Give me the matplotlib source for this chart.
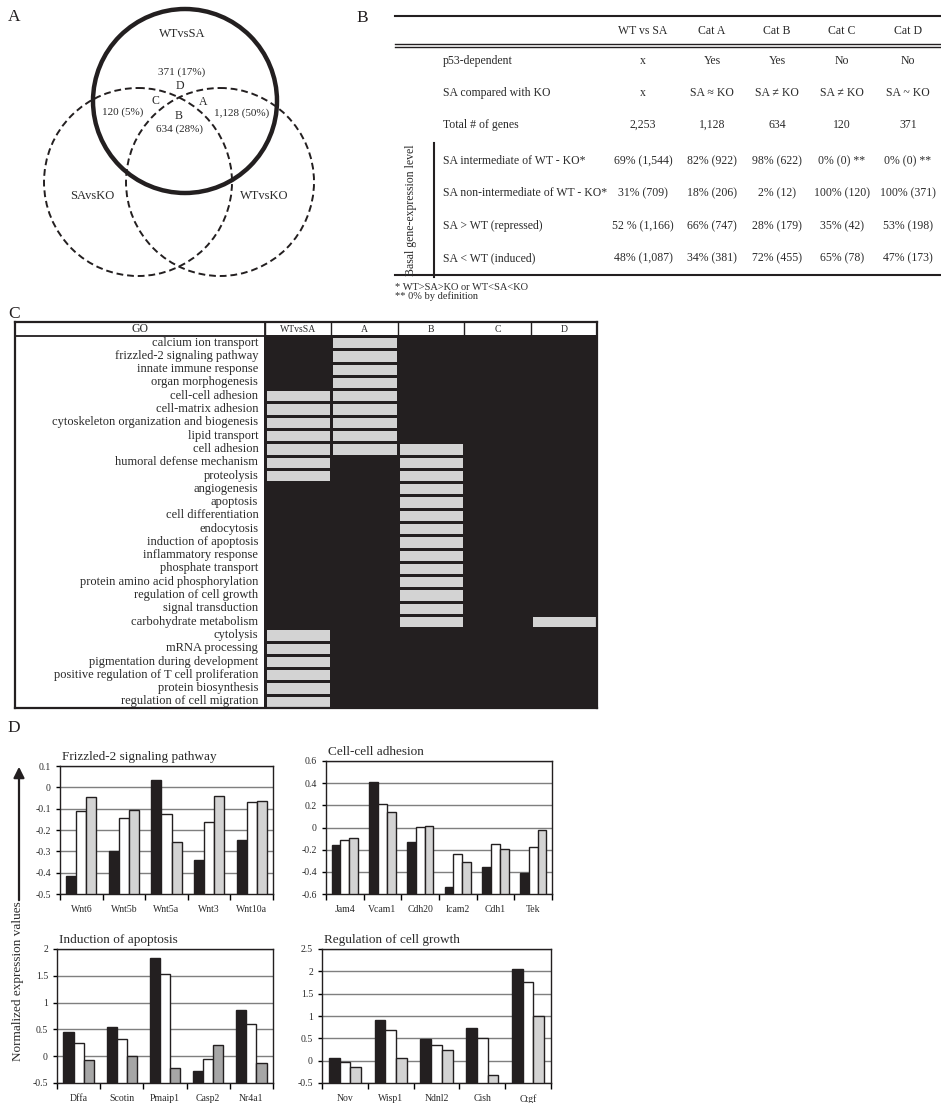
import numpy as np
import matplotlib
matplotlib.use('Agg')
import matplotlib.pyplot as plt
from matplotlib.patches import Circle
from matplotlib.colors import ListedColormap

plt.rcParams['font.family'] = ['Liberation Serif', 'DejaVu Serif']

# ---------------- DATA ----------------
# Panel A (Venn)
venn_sets = ['WTvsSA', 'SAvsKO', 'WTvsKO']
venn_regions = ['D', 'C', 'A', 'B']
venn_counts = [371, 120, 1128, 634]
venn_pcts = [17, 5, 50, 28]

# Panel B (table)
table_cols = ['WT vs SA', 'Cat A', 'Cat B', 'Cat C', 'Cat D']
table_rows = ['p53-dependent', 'SA compared with KO', 'Total # of genes',
              'SA intermediate of WT - KO*', 'SA non-intermediate of WT - KO*',
              'SA > WT (repressed)', 'SA < WT (induced)']
row_p53 = ['x', 'Yes', 'Yes', 'No', 'No']
row_cmp = ['x', 'SA \u2248 KO', 'SA \u2260 KO', 'SA \u2260 KO', 'SA ~ KO']
row_total = ['2,253', '1,128', '634', '120', '371']
row_inter = ['69% (1,544)', '82% (922)', '98% (622)', '0% (0) **', '0% (0) **']
row_noninter = ['31% (709)', '18% (206)', '2% (12)', '100% (120)', '100% (371)']
row_repr = ['52 % (1,166)', '66% (747)', '28% (179)', '35% (42)', '53% (198)']
row_ind = ['48% (1,087)', '34% (381)', '72% (455)', '65% (78)', '47% (173)']
table_side_label = 'Basal gene-expression level'
footnotes = ['* WT>SA>KO or WT<SA<KO', '** 0% by definition']

# Panel C (GO enrichment)
go_cols = ['WTvsSA', 'A', 'B', 'C', 'D']
go_terms = ['calcium ion transport', 'frizzled-2 signaling pathway', 'innate immune response',
            'organ morphogenesis', 'cell-cell adhesion', 'cell-matrix adhesion',
            'cytoskeleton organization and biogenesis', 'lipid transport', 'cell adhesion',
            'humoral defense mechanism', 'proteolysis', 'angiogenesis', 'apoptosis',
            'cell differentiation', 'endocytosis', 'induction of apoptosis',
            'inflammatory response', 'phosphate transport',
            'protein amino acid phosphorylation', 'regulation of cell growth',
            'signal transduction', 'carbohydrate metabolism', 'cytolysis', 'mRNA processing',
            'pigmentation during development', 'positive regulation of T cell proliferation',
            'protein biosynthesis', 'regulation of cell migration']
go_WTvsSA = ['cell-cell adhesion', 'cell-matrix adhesion', 'cytoskeleton organization and biogenesis',
             'lipid transport', 'cell adhesion', 'humoral defense mechanism', 'proteolysis',
             'cytolysis', 'mRNA processing', 'pigmentation during development',
             'positive regulation of T cell proliferation', 'protein biosynthesis',
             'regulation of cell migration']
go_A = ['calcium ion transport', 'frizzled-2 signaling pathway', 'innate immune response',
        'organ morphogenesis', 'cell-cell adhesion', 'cell-matrix adhesion',
        'cytoskeleton organization and biogenesis', 'lipid transport', 'cell adhesion']
go_B = ['cell adhesion', 'humoral defense mechanism', 'proteolysis', 'angiogenesis', 'apoptosis',
        'cell differentiation', 'endocytosis', 'induction of apoptosis', 'inflammatory response',
        'phosphate transport', 'protein amino acid phosphorylation', 'regulation of cell growth',
        'signal transduction', 'carbohydrate metabolism']
go_C = []
go_D = ['carbohydrate metabolism']

# Panel D (bar charts)
fz_genes = ['Wnt6', 'Wnt5b', 'Wnt5a', 'Wnt3', 'Wnt10a']
fz_black = [-0.415, -0.30, 0.035, -0.34, -0.248]
fz_white = [-0.11, -0.143, -0.125, -0.162, -0.07]
fz_gray = [-0.045, -0.107, -0.257, -0.04, -0.065]

cc_genes = ['Jam4', 'Vcam1', 'Cdh20', 'Icam2', 'Cdh1', 'Tek']
cc_black = [-0.16, 0.41, -0.13, -0.535, -0.36, -0.415]
cc_white = [-0.115, 0.21, 0.005, -0.24, -0.15, -0.175]
cc_gray = [-0.095, 0.14, 0.015, -0.31, -0.19, -0.02]

ap_genes = ['Dffa', 'Scotin', 'Pmaip1', 'Casp2', 'Nr4a1']
ap_black = [0.46, 0.55, 1.83, -0.28, 0.86]
ap_white = [0.25, 0.33, 1.54, -0.05, 0.60]
ap_gray = [-0.08, 0.01, -0.22, 0.20, -0.13]

cg_genes = ['Nov', 'Wisp1', 'Ndnl2', 'Cish', 'Ctgf']
cg_black = [0.07, 0.91, 0.49, 0.73, 2.05]
cg_white = [-0.03, 0.69, 0.35, 0.51, 1.76]
cg_gray = [-0.14, 0.06, 0.25, -0.33, 1.01]

# ---------------- FIGURE ----------------
W, H = 941, 1103
fig = plt.figure(figsize=(W / 100, H / 100), dpi=100)
INK = '#231f20'
TXT = '#2a2a2a'
LIGHT = '#d3d3d3'
MID = '#a6a6a6'


def rect(l, t, r, b):
    return [l / W, 1 - b / H, (r - l) / W, (b - t) / H]


ax0 = fig.add_axes([0, 0, 1, 1])
ax0.set_xlim(0, W)
ax0.set_ylim(H, 0)
ax0.axis('off')

# panel letters
for letter, (px, py) in zip('ABCD', [(14, 17), (362, 18), (14, 314), (14, 728)]):
    ax0.text(px, py, letter, fontsize=12.5, ha='center', va='center', color=INK)

# ---- Panel A: Venn ----
ax0.add_patch(Circle((185, 101), 92, fill=False, lw=3.2, ec=INK))
ax0.add_patch(Circle((138, 182), 94, fill=False, lw=1.4, ec=INK, ls=(0, (3.5, 2))))
ax0.add_patch(Circle((220, 182), 94, fill=False, lw=1.4, ec=INK, ls=(0, (3.5, 2))))
for name, pos in zip(venn_sets, [(182, 34), (92, 196), (264, 196)]):
    ax0.text(*pos, name, fontsize=9, ha='center', va='center', color=TXT)
region_letter_pos = [(180, 86), (155, 101), (203, 102), (179, 116)]
region_count_pos = [(182, 72), (123, 112), (242, 113), (180, 129)]
for reg, cnt, pct, lp, cp in zip(venn_regions, venn_counts, venn_pcts,
                                  region_letter_pos, region_count_pos):
    ax0.text(*lp, reg, fontsize=8.5, ha='center', va='center', color=TXT)
    ax0.text(*cp, f'{cnt:,} ({pct}%)', fontsize=8, ha='center', va='center', color=TXT)

# ---- Panel B: table ----
tab_left, tab_right = 395, W
ax0.plot([tab_left, tab_right], [16, 16], color=INK, lw=1.5)
ax0.plot([tab_left, tab_right], [44, 44], color=INK, lw=1.0)
ax0.plot([tab_left, tab_right], [47, 47], color=INK, lw=1.0)
ax0.plot([tab_left, tab_right], [275, 275], color=INK, lw=1.5)
ax0.plot([434, 434], [143, 277], color=INK, lw=1.5)
col_x = [643, 712, 777, 842, 908]
row_y = [61, 93, 125, 161, 193, 226, 258]
for cx, c in zip(col_x, table_cols):
    ax0.text(cx, 31, c, fontsize=8.5, ha='center', va='center', color=TXT)
table_values = [row_p53, row_cmp, row_total, row_inter, row_noninter, row_repr, row_ind]
for ry, lab, vals in zip(row_y, table_rows, table_values):
    ax0.text(443, ry, lab, fontsize=8.5, ha='left', va='center', color=TXT)
    for cx, v in zip(col_x, vals):
        ax0.text(cx, ry, v, fontsize=8.5, ha='center', va='center', color=TXT)
ax0.text(411, 210, table_side_label, fontsize=8.5, rotation=90, ha='center', va='center', color=TXT)
for i, fn in enumerate(footnotes):
    ax0.text(395, 287 + i * 9, fn, fontsize=7.5, ha='left', va='center', color=TXT)

# ---- Panel C: GO grid ----
grid_l, grid_div, grid_r = 15, 265, 597
grid_t, grid_hb, grid_b = 322, 336, 708
colw = (grid_r - grid_div) / len(go_cols)
roww = (grid_b - grid_hb) / len(go_terms)
GOW = (grid_div - grid_l) / colw
HDR = (grid_hb - grid_t) / roww
axc = fig.add_axes(rect(grid_l, grid_t, grid_r, grid_b))
axc.set_xlim(-GOW, len(go_cols))
axc.set_ylim(len(go_terms), -HDR)
axc.set_xticks([])
axc.set_yticks([])
for s in axc.spines.values():
    s.set_linewidth(1.6)
    s.set_color(INK)
members = [go_WTvsSA, go_A, go_B, go_C, go_D]
mat = np.array([[1 if t in m else 0 for m in members] for t in go_terms])
axc.pcolormesh(np.arange(len(go_cols) + 1), np.arange(len(go_terms) + 1), mat,
               cmap=ListedColormap([INK, LIGHT]), vmin=0, vmax=1,
               edgecolors=INK, linewidth=1.0)
axc.axhline(0, color=INK, lw=1.3)
axc.vlines(np.arange(len(go_cols)), -HDR, 0, colors=INK, lw=1.0)
axc.vlines([0], -HDR, len(go_terms), colors=INK, lw=1.3)
axc.text(-GOW / 2, -HDR / 2, 'GO', fontsize=8.5, ha='center', va='center', color=TXT)
for i, c in enumerate(go_cols):
    axc.text(i + 0.5, -HDR / 2, c, fontsize=7, ha='center', va='center', color=TXT)
for j, t in enumerate(go_terms):
    axc.text(-0.1, j + 0.5, t, fontsize=9, ha='right', va='center', color=TXT)

# ---- Panel D: bar charts ----


def fmt(v):
    v = round(v, 2) + 0.0
    return f'{v:g}'


def bars(px, title, cats, blk, wht, gry, lo, hi, step, gcol):
    ax = fig.add_axes(rect(*px))
    x = np.arange(len(cats))
    w = 0.235
    for off, vals, col in [(-w, blk, INK), (0, wht, 'white'), (w, gry, gcol)]:
        v = np.array(vals)
        ax.bar(x + off, v - lo, bottom=lo, width=w, color=col, edgecolor=INK,
               lw=1.0, zorder=3)
    ax.set_xlim(-0.5, len(cats) - 0.5)
    ax.set_ylim(lo, hi)
    ticks = np.arange(lo, hi + step / 2, step)
    ax.set_yticks(ticks)
    ax.set_yticklabels([fmt(t) for t in ticks])
    ax.yaxis.grid(True, color='#7f7f7f', lw=1.0)
    ax.set_axisbelow(True)
    ax.set_xticks(x)
    ax.set_xticklabels(cats, fontsize=7, color=TXT)
    ax.set_xticks(np.arange(len(cats) + 1) - 0.5, minor=True)
    ax.tick_params(axis='x', which='major', length=0, pad=8)
    ax.tick_params(axis='x', which='minor', length=4, direction='out', width=1)
    ax.tick_params(axis='y', length=3, direction='out', labelsize=7, labelcolor=TXT, width=1)
    for s in ax.spines.values():
        s.set_color(INK)
        s.set_linewidth(1.0)
    ax.text(0.01, 1.025, title, transform=ax.transAxes, fontsize=9.5, ha='left',
            va='bottom', color=TXT)
    return ax


bars((60, 766, 273, 894), 'Frizzled-2 signaling pathway', fz_genes, fz_black, fz_white, fz_gray,
     -0.5, 0.1, 0.1, LIGHT)
bars((326, 761, 552, 894), 'Cell-cell adhesion', cc_genes, cc_black, cc_white, cc_gray,
     -0.6, 0.6, 0.2, LIGHT)
bars((57, 949, 273, 1083), 'Induction of apoptosis', ap_genes, ap_black, ap_white, ap_gray,
     -0.5, 2.0, 0.5, MID)
bars((322, 949, 551, 1083), 'Regulation of cell growth', cg_genes, cg_black, cg_white, cg_gray,
     -0.5, 2.5, 0.5, LIGHT)

# shared y label and arrow
ax0.annotate('', xy=(19, 764), xytext=(19, 903),
             arrowprops=dict(arrowstyle='-|>', color=INK, lw=1.6, mutation_scale=16))
ax0.text(18, 981, 'Normalized expression values', fontsize=9.5, rotation=90,
         ha='center', va='center', color=TXT)

fig.savefig('out.png', dpi=100)
